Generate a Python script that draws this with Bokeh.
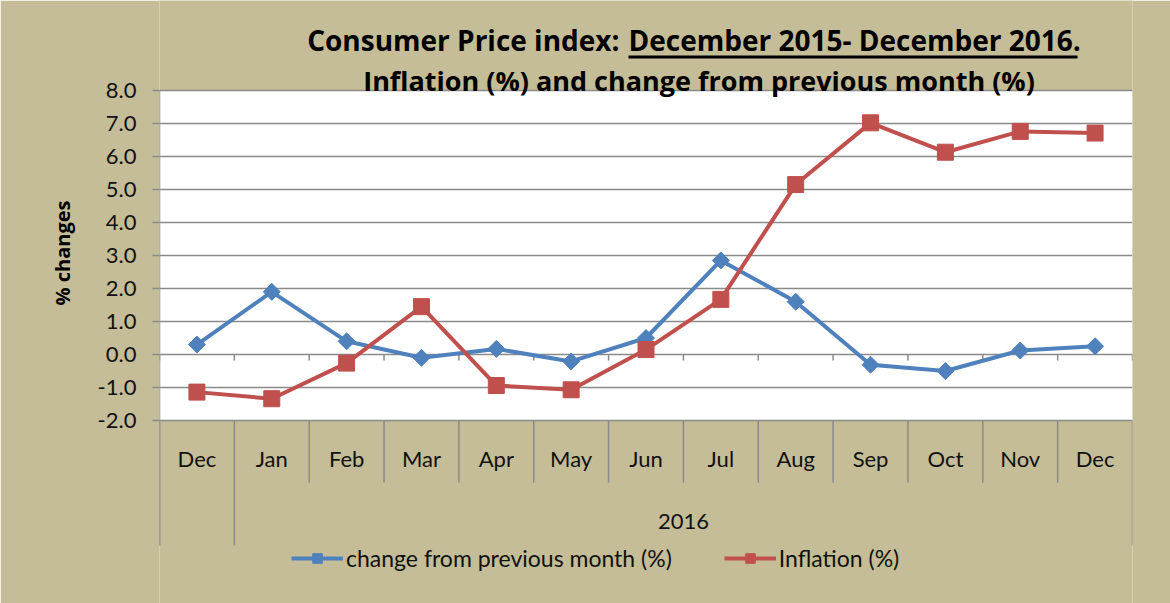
import numpy as np
from bokeh.plotting import figure
from bokeh.models import (Range1d, FixedTicker, PrintfTickFormatter, Title,
                          Legend, LegendItem)
from bokeh.core.properties import value
from bokeh.embed import file_html
from bokeh.resources import INLINE

# ---------------- data ----------------
months = ["Dec", "Jan", "Feb", "Mar", "Apr", "May", "Jun",
          "Jul", "Aug", "Sep", "Oct", "Nov", "Dec"]
year_labels = ["", "2016"]
year_sizes = [1, 12]
change_prev = [0.3, 1.9, 0.4, -0.1, 0.17, -0.21, 0.5, 2.85, 1.6, -0.31, -0.5, 0.12, 0.25]
inflation = [-1.14, -1.34, -0.26, 1.45, -0.94, -1.07, 0.15, 1.67, 5.15, 7.02, 6.13, 6.76, 6.71]
y_ticks = [-2, -1, 0, 1, 2, 3, 4, 5, 6, 7, 8]
series_names = ["change from previous month (%)", "Inflation (%)"]
title_1a = "Consumer Price index:"
title_1b = "December 2015- December 2016."
title_2 = "Inflation (%) and change from previous month (%)"
y_title = "% changes"

# ---------------- style / layout ----------------
TAN = "#C4BD97"
GRID = "#8A8A8A"
BLUE = "#4F81BD"
RED = "#C0504D"
FONT = "Lato"
TFONT = "Open Sans"

W, H = 1170, 603
FRAME_L, FRAME_R = 159, 1132       # canvas px
FRAME_T, FRAME_B = 0, 603
Y8_PX, YM2_PX = 90, 420            # canvas px of 8.0 and -2.0
n = len(months)
ppu_y = (YM2_PX - Y8_PX) / (y_ticks[-1] - y_ticks[0])
ppu_x = (FRAME_R - FRAME_L) / n

def py(p):
    return y_ticks[-1] - (p - Y8_PX) / ppu_y

def px(p):
    return -0.5 + (p - FRAME_L) / ppu_x

xs = np.arange(n)

p = figure(width=W, height=H, output_backend="svg", toolbar_location=None,
           x_range=Range1d(-0.5, n - 0.5), y_range=Range1d(py(FRAME_B), py(FRAME_T)),
           min_border_left=FRAME_L, min_border_right=W - FRAME_R,
           min_border_top=0, min_border_bottom=0)
p.background_fill_color = TAN
p.border_fill_color = TAN
p.outline_line_color = None
p.xaxis.visible = False
p.xgrid.visible = False

# y axis
ya = p.yaxis[0]
ya.ticker = FixedTicker(ticks=y_ticks)
ya.formatter = PrintfTickFormatter(format="%.1f")
ya.axis_line_color = None
ya.major_tick_line_color = GRID
ya.major_tick_line_width = 1.5
ya.major_tick_out = 7
ya.major_tick_in = 0
ya.minor_tick_line_color = None
ya.major_label_text_font = FONT
ya.major_label_text_font_size = "22px"
ya.major_label_text_color = "#111111"
ya.major_label_standoff = 16

# y axis title as a side title
p.add_layout(Title(text=y_title, align="right", offset=200, vertical_align="middle",
                   text_font=TFONT, text_font_size="20px", text_font_style="bold",
                   text_color="#000000", standoff=36), "left")

p.ygrid.ticker = FixedTicker(ticks=y_ticks)
p.ygrid.grid_line_color = GRID
p.ygrid.grid_line_width = 1.5

# white plot area
area = p.quad(left=[-0.5], right=[n - 0.5], bottom=[y_ticks[0]], top=[y_ticks[-1]],
              fill_color="white", line_color=None)
area.level = "image"

# left axis line (extends into the category area)
long_end = py(545)
short_end = py(482)
p.segment(x0=[-0.5], y0=[y_ticks[-1]], x1=[-0.5], y1=[long_end],
          line_color=GRID, line_width=1.5)

# tick marks on zero line
bounds = np.arange(n + 1) - 0.5
p.segment(x0=bounds, y0=np.zeros(n + 1), x1=bounds, y1=np.full(n + 1, -6 / ppu_y),
          line_color=GRID, line_width=1.5)

# category separators
group_edges = np.concatenate([[0], np.cumsum(year_sizes)]) - 0.5
inner = [b for b in bounds if not np.any(np.isclose(b, group_edges))]
p.segment(x0=inner, y0=[y_ticks[0]] * len(inner), x1=inner, y1=[short_end] * len(inner),
          line_color=GRID, line_width=1.5)
p.segment(x0=group_edges, y0=[y_ticks[0]] * len(group_edges), x1=group_edges,
          y1=[long_end] * len(group_edges), line_color=GRID, line_width=1.5)

# month labels
p.text(x=xs, y=[py(458)] * n, text=months, text_font=value(FONT),
       text_font_size=value("22px"), text_align="center", text_baseline="middle",
       text_color="#111111")
# year labels
gcent = (group_edges[:-1] + group_edges[1:]) / 2
p.text(x=gcent, y=[py(520.5)] * len(gcent), text=year_labels, text_font=value(FONT),
       text_font_size=value("22px"), text_align="center", text_baseline="middle",
       text_color="#111111")

# series
l1 = p.line(xs, change_prev, line_color=BLUE, line_width=4)
s1 = p.scatter(xs, change_prev, marker="square", angle=np.pi / 4, size=12,
               fill_color=BLUE, line_color=BLUE)
l2 = p.line(xs, inflation, line_color=RED, line_width=4)
s2 = p.scatter(xs, inflation, marker="square", size=16, fill_color=RED, line_color=RED)

# title
p.text(x=[px(619)], y=[py(39.5)], text=[title_1a], text_font=value(TFONT),
       text_font_size=value("28px"), text_font_style="bold", text_align="right",
       text_baseline="middle", text_color="#000000")
p.text(x=[px(628)], y=[py(39.5)], text=[title_1b], text_font=value(TFONT),
       text_font_size=value("28px"), text_font_style="bold", text_align="left",
       text_baseline="middle", text_color="#000000")
p.segment(x0=[px(628)], y0=[py(56.5)], x1=[px(1077)], y1=[py(56.5)],
          line_color="#000000", line_width=3)
p.text(x=[px(698.5)], y=[py(80)], text=[title_2], text_font=value(TFONT),
       text_font_size=value("27px"), text_font_style="bold", text_align="center",
       text_baseline="middle", text_color="#000000")

# legend
legend = Legend(items=[LegendItem(label=series_names[0], renderers=[l1, s1]),
                       LegendItem(label=series_names[1], renderers=[l2, s2])],
                orientation="horizontal", location=(291 - FRAME_L, FRAME_B - 572),
                background_fill_alpha=0, border_line_color=None,
                label_text_font=FONT, label_text_font_size="23px",
                label_text_color="#111111",
                glyph_width=52, glyph_height=24, label_standoff=3, spacing=52,
                padding=0, margin=0)
p.add_layout(legend)

open("out.html", "w").write(file_html(p, INLINE))
